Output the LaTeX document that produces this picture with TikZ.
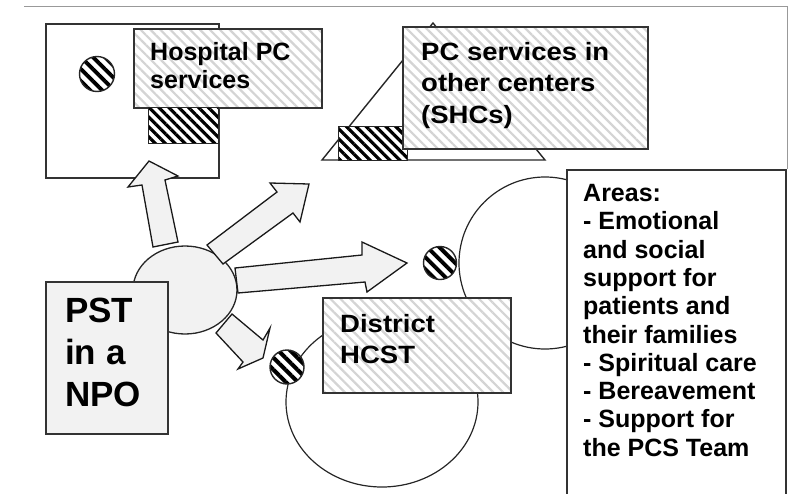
\documentclass[tikz,border=0pt]{standalone}
\usepackage{fontspec}
\setmainfont{Liberation Sans}
\usetikzlibrary{patterns.meta,shapes.geometric}
\tikzset{
  boxline/.style={draw=black!80, line width=1.6pt},
  plainbox/.style={boxline, fill=white, inner sep=0pt, anchor=north west},
  lighthatch/.style={boxline, inner sep=0pt, anchor=north west,
     preaction={fill=white},
     pattern={Lines[angle=-45,distance=7pt,line width=2.2pt]}, pattern color=black!17},
  darkhatch/.style={draw=black!85, line width=1.4pt, inner sep=0pt,
     preaction={fill=white},
     pattern={Lines[angle=-45,distance=7pt,line width=3.2pt]}, pattern color=black},
  darkdot/.style={darkhatch, circle,
     pattern={Lines[angle=-45,distance=8.5pt,line width=4pt]}},
  dotfill/.style={draw=black!85, line width=1.3pt, fill=black!5},
  blockarrow/.style={draw=black!90, line width=1.3pt, fill=black!5, line join=miter},
  thinring/.style={draw=black!85, line width=1.2pt},
  label/.style={anchor=north west, inner sep=0pt, align=left, font=\bfseries\fontsize{25}{28}\selectfont},
}
\begin{document}
\begin{tikzpicture}[x=1pt,y=-1pt]
\useasboundingbox (0,0) rectangle (793,493);
% frame lines
\coordinate (fa) at (24,6);
\coordinate (fb) at (787,6);
\coordinate (fc) at (787,169);
\draw[black!40, line width=1pt] (fa) -- (fb) -- (fc);

% Hospital PC services
\node[plainbox, minimum width=173pt, minimum height=154pt] (hospframe) at (45,23) {};
\node[darkdot, minimum size=35pt] (hospdot) at (97,74) {};
\node[lighthatch, minimum width=188pt, minimum height=79pt] (hospbox) at (133,28) {};
\node[darkhatch, anchor=north west, minimum width=70pt, minimum height=36pt] (hospbar) at (148,107) {};
\node[label] (hosptext) at (150,42.1) {Hospital PC\\services};

% PC services in other centers
\coordinate (ta) at (322,160);
\coordinate (tb) at (433,23);
\coordinate (tc) at (545,160);
\draw[draw=black!85, line width=1.4pt, fill=white, line join=miter] (ta) -- (tb) -- (tc) -- cycle;
\node[darkhatch, anchor=north west, minimum width=69pt, minimum height=34pt] (shcbar) at (338,126) {};
\node[lighthatch, minimum width=245pt, minimum height=122pt] (shcbox) at (402,26) {};
\node[label, xscale=1.1, font=\bfseries\fontsize{25}{31.5}\selectfont] (shctext) at (421,42.1) {PC services in\\other centers\\(SHCs)};

% right ring and Areas box
\draw[thinring] (545,263) circle (86pt);
\node[plainbox, minimum width=219pt, minimum height=340pt] (areas) at (566,169) {};
\node[label, font=\bfseries\fontsize{25}{28.3}\selectfont] (areastext) at (583,184.1)
  {Areas:\\- Emotional\\and social\\support for\\patients and\\their families\\- Spiritual care\\- Bereavement\\- Support for\\the PCS Team};
\node[darkdot, minimum size=33pt] (ringdot) at (440,263) {};

% lower ring and District HCST
\draw[thinring] (382,402) ellipse (96pt and 85pt);
\node[lighthatch, minimum width=188pt, minimum height=95pt] (district) at (322,297) {};
\node[label, xscale=1.1, font=\bfseries\fontsize{25}{31}\selectfont] (districttext) at (340,314) {District\\HCST};
\node[darkdot, minimum size=34pt] (distdot) at (287,367) {};

% central ellipse and PST box
\node[dotfill, ellipse, minimum width=104pt, minimum height=88pt, inner sep=0pt] (hub) at (185,290) {};
\draw[blockarrow] (153,247) -- (142,185) -- (128,187) -- (149,161) -- (178,176) -- (165,180) -- (178,242) -- cycle;
\draw[blockarrow] (207,245) -- (277,192) -- (270,183) -- (309,184) -- (300,222) -- (293,213) -- (223,264) -- cycle;
\draw[blockarrow] (235,268) -- (362,255) -- (362,242) -- (407,263) -- (367,292) -- (365,282) -- (238,293) -- cycle;
\draw[blockarrow] (232,314) -- (263,340) -- (270,328) -- (263,358) -- (238,369) -- (243,362) -- (216,333) -- cycle;
\node[dotfill, draw=black!80, line width=1.6pt, anchor=north west, inner sep=0pt, minimum width=122pt, minimum height=152pt] (pst) at (45,281) {};
\node[label, font=\bfseries\fontsize{35}{42}\selectfont] (psttext) at (65,297.9) {PST\\in a\\NPO};
\end{tikzpicture}
\end{document}
